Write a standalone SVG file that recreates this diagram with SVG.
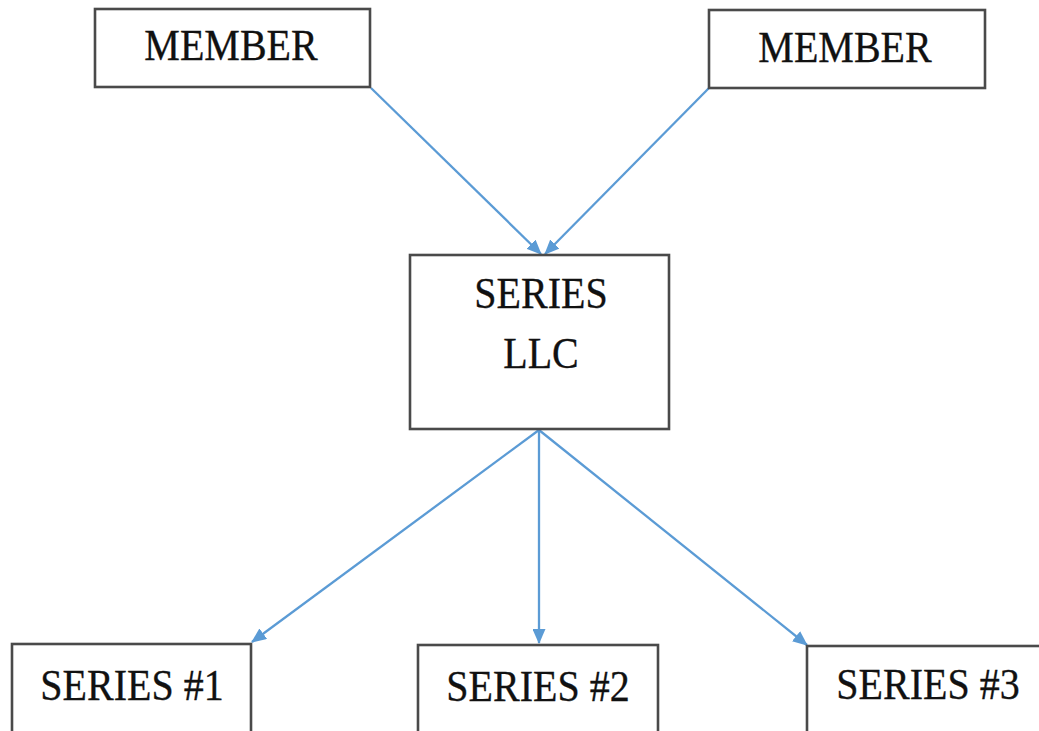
<svg xmlns="http://www.w3.org/2000/svg" width="1039" height="731" viewBox="0 0 1039 731">
  <style>
    .box { fill: #ffffff; stroke: #4a4a4a; stroke-width: 2.6; }
    .lbl { font-family: "Liberation Serif", "Times New Roman", serif; font-size: 40px; fill: #111111; text-anchor: middle; stroke: #111111; stroke-width: 0.3; }
    .link { stroke: #5b9bd5; stroke-width: 2.3; fill: none; marker-end: url(#arrow); }
  </style>
  <defs>
    <marker id="arrow" markerUnits="userSpaceOnUse" markerWidth="15" markerHeight="13" refX="14" refY="6.5" orient="auto">
      <path d="M0,0 L15,6.5 L0,13 Z" fill="#5b9bd5"/>
    </marker>
  </defs>
  <rect width="1039" height="731" fill="#ffffff"/>

  <g id="connectors">
    <line class="link" x1="371" y1="88" x2="541" y2="254"/>
    <line class="link" x1="709" y1="88" x2="545" y2="254"/>
    <line class="link" x1="539" y1="430" x2="252" y2="642"/>
    <line class="link" x1="539" y1="430" x2="539" y2="643"/>
    <line class="link" x1="539" y1="430" x2="807" y2="645"/>
  </g>

  <g id="member-left">
    <rect class="box" x="95" y="9" width="275" height="78"/>
    <text class="lbl" transform="translate(231,59.5) scale(1,1.12)">MEMBER</text>
  </g>

  <g id="member-right">
    <rect class="box" x="709" y="10" width="276" height="78"/>
    <text class="lbl" transform="translate(845,61.5) scale(1,1.12)">MEMBER</text>
  </g>

  <g id="series-llc">
    <rect class="box" x="410" y="255" width="259" height="174"/>
    <text class="lbl" transform="translate(541,308) scale(1,1.12)">SERIES</text>
    <text class="lbl" transform="translate(541,368) scale(1,1.12)">LLC</text>
  </g>

  <g id="series-1">
    <rect class="box" x="12" y="644" width="239" height="100"/>
    <text class="lbl" transform="translate(132,700) scale(1,1.12)">SERIES #1</text>
  </g>

  <g id="series-2">
    <rect class="box" x="418" y="645" width="240" height="100"/>
    <text class="lbl" transform="translate(538,701) scale(1,1.12)">SERIES #2</text>
  </g>

  <g id="series-3">
    <rect class="box" x="807" y="646" width="250" height="100"/>
    <text class="lbl" transform="translate(928,699) scale(1,1.12)">SERIES #3</text>
  </g>
</svg>
